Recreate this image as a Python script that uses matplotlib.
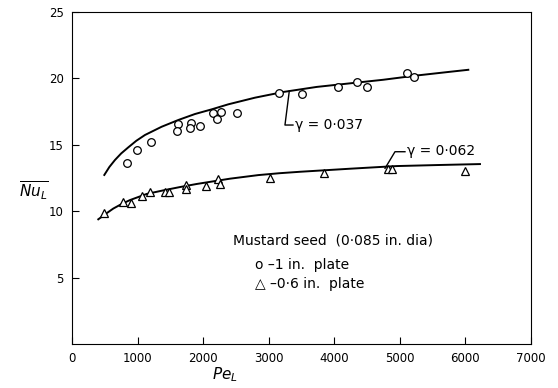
import matplotlib

matplotlib.use("Agg")

import matplotlib.pyplot as plt

# 1 in. plate (circles)
pe_circ = [834, 986, 1205, 1611, 1596, 1810, 1800, 1952, 2155, 2267, 2206, 2511,
           3157, 3513, 4052, 4342, 4504, 5104, 5216]
nu_circ = [13.6, 14.6, 15.23, 16.6, 16.04, 16.66, 16.3, 16.44, 17.37, 17.45, 16.94, 17.42,
           18.88, 18.8, 19.38, 19.7, 19.33, 20.38, 20.1]

# 0.6 in. plate (triangles)
pe_tri = [488, 783, 900, 1063, 1190, 1418, 1484, 1739, 1739, 2044, 2222, 2257,
          3020, 3843, 4824, 4885, 5994]
nu_tri = [9.84, 10.72, 10.6, 11.17, 11.47, 11.42, 11.42, 11.97, 11.65, 11.92, 12.42, 12.03,
          12.52, 12.9, 13.15, 13.15, 13.0]

# fitted curves
pe_fit1 = [493, 570, 656, 750, 859, 980, 1113, 1367, 1622, 1876, 2130, 2384, 2791, 3223, 3732,
           4240, 4748, 5256, 5765, 6044]
nu_fit1 = [12.73, 13.33, 13.86, 14.35, 14.81, 15.3, 15.74, 16.36, 16.87, 17.32, 17.67, 18.05,
           18.55, 18.98, 19.36, 19.63, 19.9, 20.22, 20.5, 20.65]
pe_fit2 = [401, 520, 630, 760, 885, 1139, 1393, 1647, 1901, 2155, 2410, 2842, 3160, 3477, 4240,
           4697, 4952, 5600, 6222]
nu_fit2 = [9.39, 9.82, 10.2, 10.55, 10.84, 11.3, 11.57, 11.82, 12.05, 12.25, 12.45, 12.72,
           12.86, 12.97, 13.2, 13.33, 13.4, 13.48, 13.55]

plt.rcParams["font.family"] = "DejaVu Sans"

fig = plt.figure(figsize=(5.58, 3.88), dpi=100)
ax = fig.add_axes([0.129, 0.1134, 0.8226, 0.8556])

ax.plot(pe_fit1, nu_fit1, color="black", lw=1.4)
ax.plot(pe_fit2, nu_fit2, color="black", lw=1.4)
ax.plot(pe_circ, nu_circ, "o", ms=5.5, mfc="white", mec="black", mew=0.9)
ax.plot(pe_tri, nu_tri, "^", ms=5.5, mfc="white", mec="black", mew=0.9)

# leader lines to curve labels
ax.plot([3314, 3248, 3370], [19.05, 16.49, 16.49], color="black", lw=1.0)
ax.text(3400, 16.49, "γ = 0·037", fontsize=10, va="center")
ax.plot([4774, 4926, 5078], [13.23, 14.48, 14.48], color="black", lw=1.0)
ax.text(5110, 14.5, "γ = 0·062", fontsize=10, va="center")

ax.text(2450, 7.76, "Mustard seed  (0·085 in. dia)", fontsize=10, va="center")
ax.text(2790, 5.95, "o –1 in.  plate", fontsize=10, va="center")
ax.text(2790, 4.5, "△ –0·6 in.  plate", fontsize=10, va="center")

ax.set_xlim(0, 7000)
ax.set_ylim(0, 25)
ax.set_xticks(range(0, 7001, 1000))
ax.set_yticks([5, 10, 15, 20, 25])
ax.tick_params(direction="in", length=5, labelsize=8.5, pad=6)

fig.text(0.06, 0.51, r"$\overline{Nu_L}$", fontsize=11, ha="center", va="center")
fig.text(0.403, 0.035, r"$Pe_L$", fontsize=11, ha="center", va="center")

fig.savefig("out.png", dpi=100)
plt.close(fig)
